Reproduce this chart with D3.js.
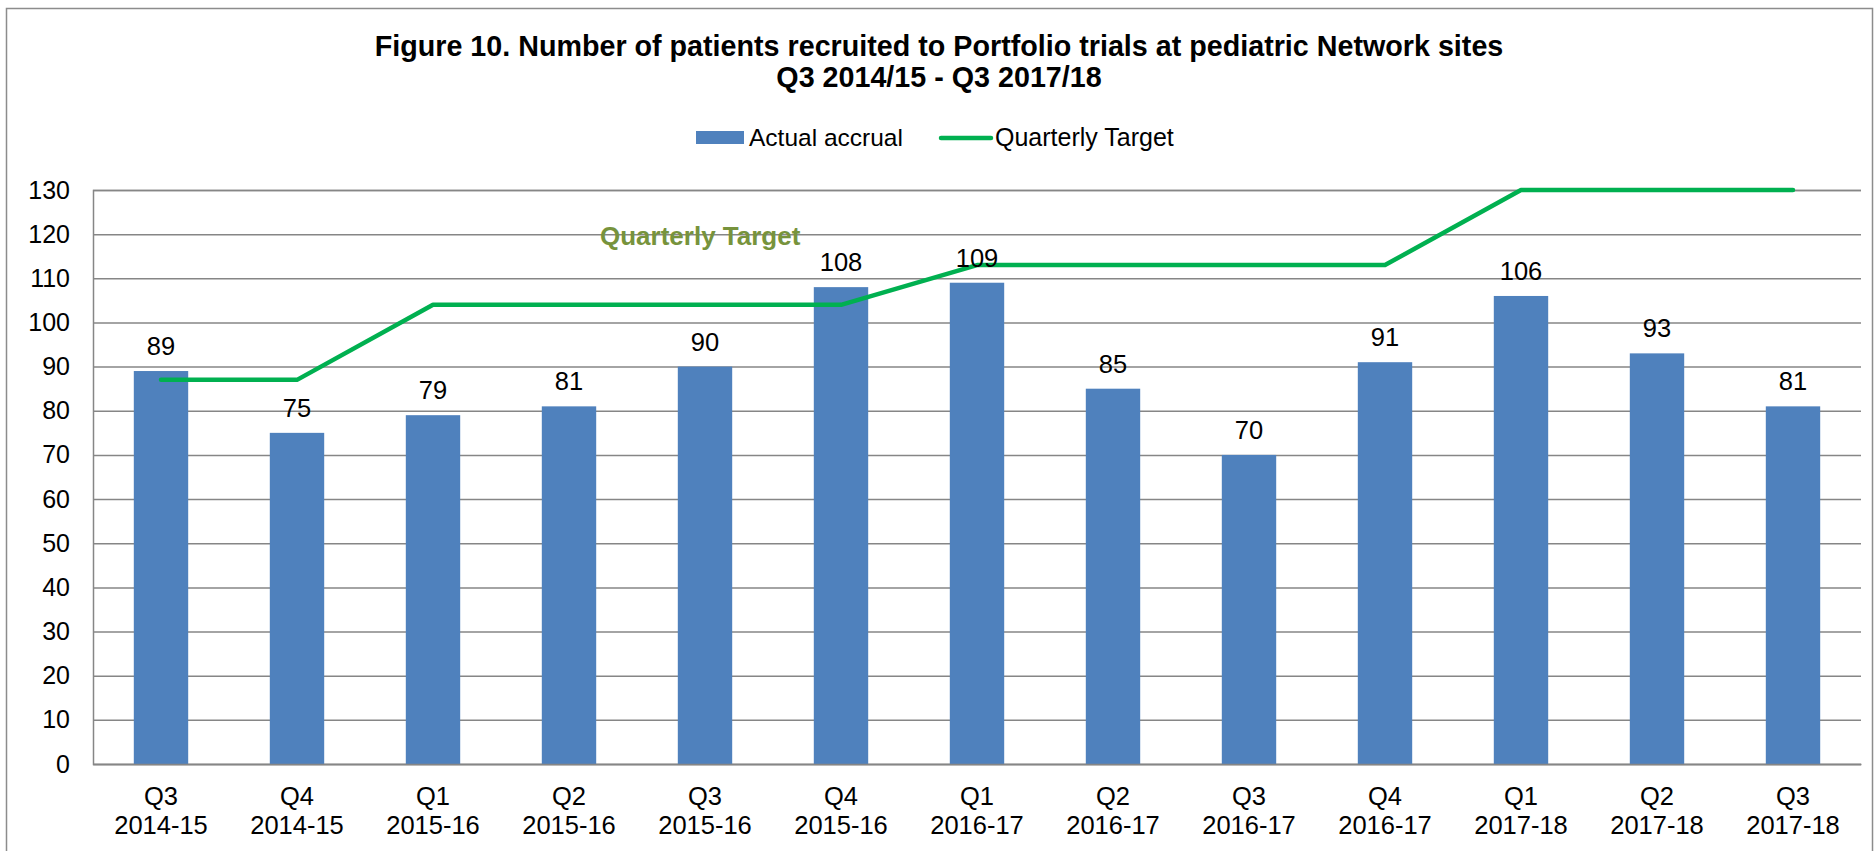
<!DOCTYPE html>
<html>
<head>
<meta charset="utf-8">
<script src="https://cdn.jsdelivr.net/npm/d3@7"></script>
<style>
  body { margin: 0; background: #fff; }
  text { font-family: "Liberation Sans", Arial, sans-serif; }
</style>
</head>
<body>
<div id="chart"></div>
<script>
// data
var quarters = ["Q3", "Q4", "Q1", "Q2", "Q3", "Q4", "Q1", "Q2", "Q3", "Q4", "Q1", "Q2", "Q3"];
var years = ["2014-15", "2014-15", "2015-16", "2015-16", "2015-16", "2015-16",
  "2016-17", "2016-17", "2016-17", "2016-17", "2017-18", "2017-18", "2017-18"];
var accrual = [89, 75, 79, 81, 90, 108, 109, 85, 70, 91, 106, 93, 81];
var target = [87, 87, 104, 104, 104, 104, 113, 113, 113, 113, 130, 130, 130];
var yTicks = [0, 10, 20, 30, 40, 50, 60, 70, 80, 90, 100, 110, 120, 130];

var W = 1875, H = 851;
var margin = { top: 190, right: 14, bottom: 87, left: 93 };

var svg = d3.select("#chart").append("svg")
  .attr("width", W)
  .attr("height", H);

// outer frame
svg.append("rect")
  .attr("x", 6.5).attr("y", 8.5)
  .attr("width", W - 9).attr("height", H + 10)
  .attr("fill", "none")
  .attr("stroke", "#8c8c8c")
  .attr("stroke-width", 1.5);

// title
var title = svg.append("text")
  .attr("text-anchor", "middle")
  .attr("font-weight", "bold")
  .attr("font-size", 28.7);
title.append("tspan").attr("x", 939).attr("y", 56)
  .text("Figure 10. Number of patients recruited to Portfolio trials at pediatric Network sites");
title.append("tspan").attr("x", 939).attr("y", 87)
  .text("Q3 2014/15 - Q3 2017/18");

var keys = accrual.map(function(d, i) { return i; });

var x = d3.scaleBand()
  .domain(keys)
  .range([margin.left, W - margin.right])
  .paddingInner(0.6)
  .paddingOuter(0.3);

var y = d3.scaleLinear()
  .domain([0, 130])
  .range([H - margin.bottom, margin.top]);

// gridlines + y labels
var yAxis = d3.axisLeft(y)
  .tickValues(yTicks)
  .tickSize(-(W - margin.right - margin.left))
  .tickPadding(23);

var gy = svg.append("g")
  .attr("transform", "translate(" + margin.left + ",0)")
  .call(yAxis);
gy.select(".domain").attr("stroke", "#868686").attr("stroke-width", 1.5);
gy.selectAll(".tick line").attr("stroke", "#868686").attr("stroke-width", 1.5);
gy.selectAll(".tick text")
  .attr("font-size", 25)
  .attr("fill", "#000")
  .style("font-family", "Liberation Sans, Arial, sans-serif");

// bars
svg.append("g").selectAll("rect")
  .data(accrual)
  .enter().append("rect")
  .attr("x", function(d, i) { return x(i); })
  .attr("width", x.bandwidth())
  .attr("y", function(d) { return y(d); })
  .attr("height", function(d) { return y(0) - y(d); })
  .attr("fill", "#4F81BD");

// baseline axis
var xAxis = d3.axisBottom(x).tickSize(0).tickFormat("");
var gx = svg.append("g")
  .attr("transform", "translate(0," + y(0) + ")")
  .call(xAxis);
gx.select(".domain").attr("stroke", "#868686").attr("stroke-width", 1.5);

// category labels (two lines)
var lab = svg.append("g").selectAll("text")
  .data(keys)
  .enter().append("text")
  .attr("text-anchor", "middle")
  .attr("font-size", 25.5)
  .attr("fill", "#000");
lab.append("tspan")
  .attr("x", function(i) { return x(i) + x.bandwidth() / 2; })
  .attr("y", y(0) + 41)
  .text(function(i) { return quarters[i]; });
lab.append("tspan")
  .attr("x", function(i) { return x(i) + x.bandwidth() / 2; })
  .attr("y", y(0) + 70)
  .text(function(i) { return years[i]; });

// target line
var line = d3.line()
  .x(function(d, i) { return x(i) + x.bandwidth() / 2; })
  .y(function(d) { return y(d); });

svg.append("path")
  .datum(target)
  .attr("d", line)
  .attr("fill", "none")
  .attr("stroke", "#00B050")
  .attr("stroke-width", 4.5)
  .attr("stroke-linecap", "round")
  .attr("stroke-linejoin", "round");

// value labels
svg.append("g").selectAll("text")
  .data(accrual)
  .enter().append("text")
  .attr("x", function(d, i) { return x(i) + x.bandwidth() / 2; })
  .attr("y", function(d) { return y(d) - 16; })
  .attr("text-anchor", "middle")
  .attr("font-size", 25.5)
  .attr("fill", "#000")
  .text(function(d) { return d; });

// annotation
svg.append("text")
  .attr("x", 600)
  .attr("y", 245)
  .attr("font-size", 26)
  .attr("font-weight", "bold")
  .attr("fill", "#77933C")
  .text("Quarterly Target");

// legend
var lg = svg.append("g");
lg.append("rect")
  .attr("x", 696).attr("y", 131)
  .attr("width", 48).attr("height", 13)
  .attr("fill", "#4F81BD");
lg.append("text")
  .attr("x", 749).attr("y", 146)
  .attr("font-size", 24.5)
  .text("Actual accrual");
lg.append("line")
  .attr("x1", 941).attr("x2", 991)
  .attr("y1", 138).attr("y2", 138)
  .attr("stroke", "#00B050")
  .attr("stroke-width", 4.5)
  .attr("stroke-linecap", "round");
lg.append("text")
  .attr("x", 995).attr("y", 146)
  .attr("font-size", 25)
  .text("Quarterly Target");
</script>
</body>
</html>
